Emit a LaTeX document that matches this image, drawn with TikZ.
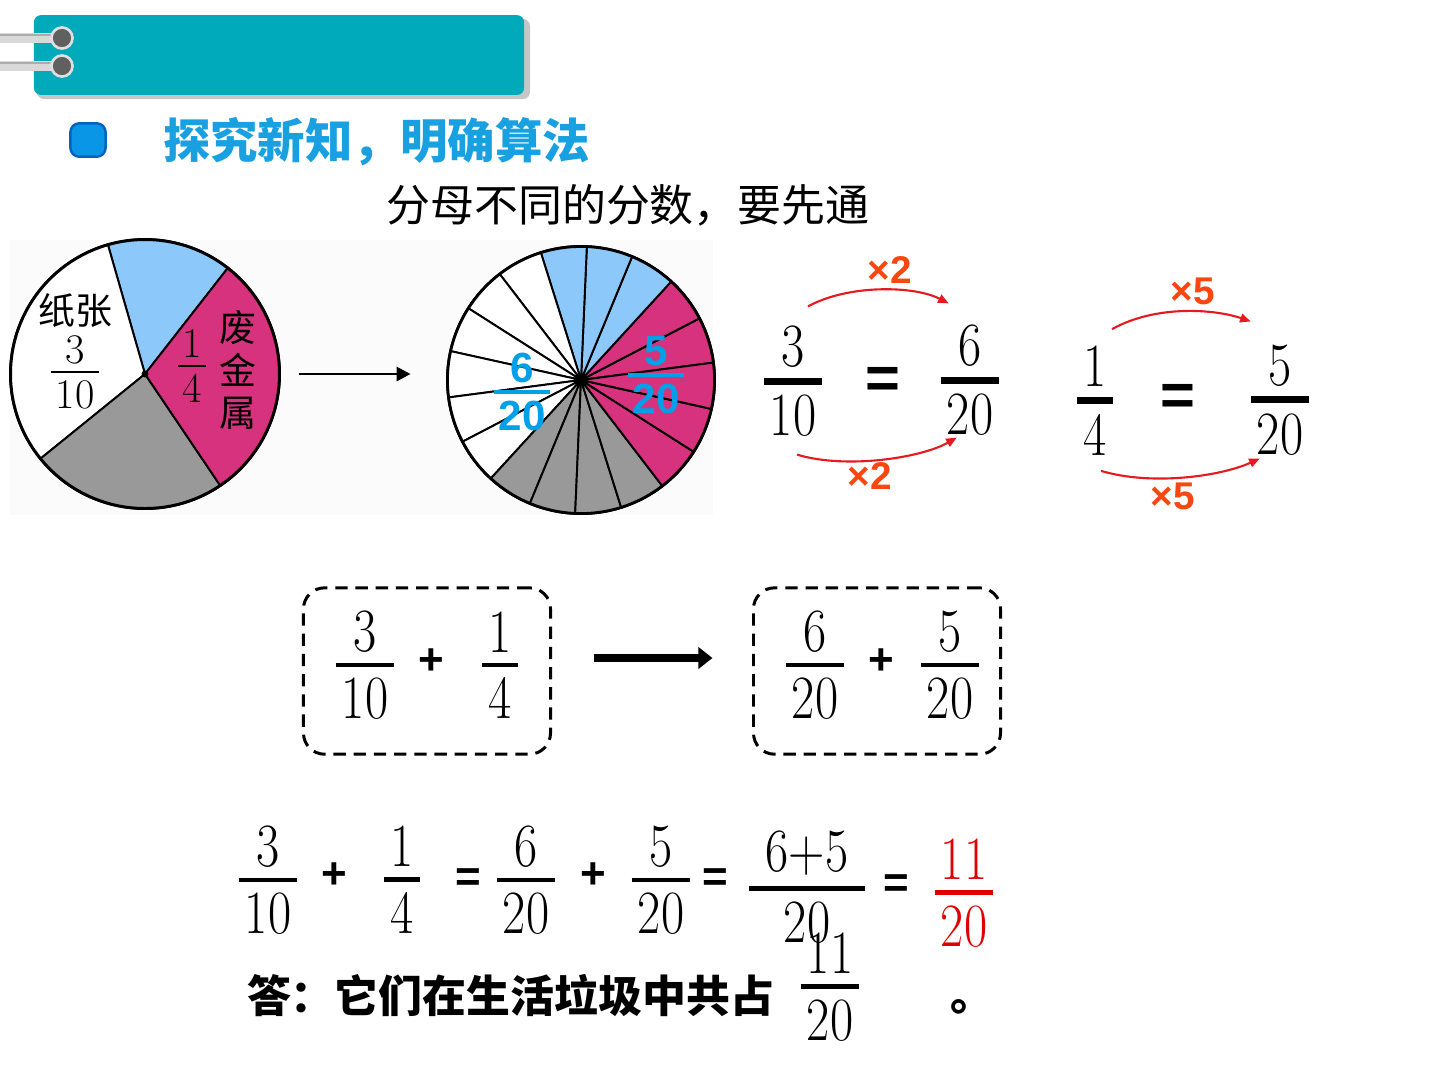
\documentclass[tikz,border=0pt]{standalone}
\usepackage{graphicx}
\usepackage{fontspec}
\newfontfamily\cjk{Noto Sans CJK SC}
\newfontfamily\arial{Liberation Sans}
\usetikzlibrary{arrows.meta,positioning}

\definecolor{barteal}{RGB}{0,170,187}
\definecolor{titleblue}{RGB}{25,160,225}
\definecolor{dotblue}{RGB}{10,150,230}
\definecolor{dotedge}{RGB}{0,100,190}
\definecolor{pieblue}{RGB}{140,200,250}
\definecolor{piepink}{RGB}{215,50,125}
\definecolor{piegray}{RGB}{153,153,153}
\definecolor{fracblue}{RGB}{0,160,233}
\definecolor{mulred}{RGB}{230,25,30}
\definecolor{mulorange}{RGB}{250,70,15}
\definecolor{ansred}{RGB}{225,0,0}

\newdimen\frw
\newbox\frnum
\newbox\frden
\newcommand{\fr}[3][2pt]{%
  \setbox\frnum=\hbox{#2}\setbox\frden=\hbox{#3}%
  \frw=\wd\frnum\relax
  \ifdim\wd\frden>\frw \frw=\wd\frden\relax\fi
  \advance\frw by 0.2em\relax
  \vbox{\offinterlineskip
    \hbox to\frw{\hss\box\frnum\hss}
    \kern0.17em
    \hrule height #1
    \kern0.17em
    \hbox to\frw{\hss\box\frden\hss}}}
\newcommand{\nar}[1]{\scalebox{0.82}[1]{#1}}

\begin{document}
\begin{tikzpicture}[
    x=0.02cm, y=-0.02cm,
    every node/.style={inner sep=0pt, outer sep=0pt},
    cjkbig/.style={font=\cjk\fontsize{25}{30}\selectfont},
    titletext/.style={font=\cjk\bfseries\fontsize{27}{32}\selectfont, text=titleblue},
    answer/.style={font=\cjk\bfseries\fontsize{25}{30}\selectfont},
    pielab/.style={font=\fontsize{24}{28}\selectfont},
    cjkpie/.style={font=\cjk\fontsize{21}{24}\selectfont, align=center},
    bluefr/.style={font=\arial\bfseries\fontsize{24}{28}\selectfont, text=fracblue},
    big/.style={font=\fontsize{35}{42}\selectfont},
    eqbold/.style={font=\arial\bfseries\fontsize{34}{40}\selectfont},
    op/.style={font=\arial\bfseries\fontsize{25}{30}\selectfont},
    mullab/.style={font=\arial\bfseries\fontsize{22}{26}\selectfont, text=mulorange},
    mularrow/.style={draw=mulred, line width=1.2pt, -{Triangle[length=6pt,width=5pt]}},
    slice/.style={draw=black, line width=1.1pt, line join=round},
    pie/.style={circle, draw=black, line width=1.6pt, minimum size=#1},
    dbox/.style={draw, dash pattern=on 7pt off 4.5pt, line width=1.7pt, rounded corners=12pt,
        minimum width=140.6pt, minimum height=94.7pt},
    fatarrow/.style={line width=4.5pt, -{Triangle[length=8pt,width=12pt]}},
    piearrow/.style={line width=1.6pt, -{Triangle[length=8pt,width=8pt]}},
    ring/.style={circle, fill=gray!75!black, draw=gray!25, line width=1.5pt, minimum size=12pt},
    bullet/.style={rectangle, rounded corners=5pt, fill=dotblue, draw=dotedge, line width=1.4pt,
        minimum width=20pt, minimum height=19pt}
]
\fill[white] (0,0) rectangle (1440,1080);
\useasboundingbox (0,0) rectangle (1440,1080);

\fill[gray!45, rounded corners=4pt] (37,19) rectangle (530,99);
\node[fill=barteal, rounded corners=4pt, minimum width=279pt, minimum height=45.4pt] (head) at (279,55) {};
\foreach \y/\n in {38/ringA,66/ringB} {
    \draw[gray!30, line width=6pt] (0,\y) -- (55,\y);
    \draw[gray!65, line width=0.8pt] (0,\y-3) -- (55,\y-3);
    \node[ring] (\n) at (62,\y) {};
}

\node[bullet] (dot) at (88,140) {};
\node[titletext, anchor=west] (title) at (163,142) {探究新知，明确算法};
\node[cjkbig] (hint) at (628,205) {分母不同的分数，要先通};

\fill[gray!3] (10,240) rectangle (713,515);
\coordinate (pcA) at (145,374);
\coordinate (pcB) at (581,380);
\foreach \a/\b/\c in {52/106/pieblue,106/219/white,219/304/piegray,304/412/piepink}
    \filldraw[slice, fill=\c] (pcA) -- ++(-\a:135) arc[start angle=-\a, end angle=-\b, radius=135] -- cycle;
\foreach \c [count=\k from 0] in {piepink,piepink,pieblue,pieblue,pieblue,white,white,white,white,
        white,white,piegray,piegray,piegray,piegray,piepink,piepink,piepink}
    \filldraw[slice, fill=\c] (pcB) -- ++({-7.5-20*\k}:134) arc[start angle={-7.5-20*\k}, delta angle=-20, radius=134] -- cycle;
\node[pie=153pt] (pieA) at (pcA) {};
\node[pie=152pt] (pieB) at (pcB) {};
\fill (pcA) circle[radius=3.5];
\fill (pcB) circle[radius=6];

\node[cjkpie] (paper) at (75,311) {纸张};
\node[pielab] (paperfr) at (75,372) {\fr[1.2pt]{3}{10}};
\node[pielab] (metalfr) at (192,366) {\fr[1.2pt]{1}{4}};
\node[cjkpie] (metal) at (238,370) {废\\金\\属};
\node[bluefr] (sixfr) at (522,392) {\fr[2pt]{6}{20}};
\node[bluefr] (fivefr) at (656,375) {\fr[2pt]{5}{20}};
\draw[piearrow, shorten <=11pt, shorten >=21pt] (pieA.east) -- (pieA.east -| pieB.west);

\node[big] (lhsA) at (793,381) {\fr[4pt]{\nar{3}}{\nar{10}}};
\node[eqbold] (eqA) at (883,383) {=};
\node[big] (rhsA) at (970,380) {\fr[4pt]{\nar{6}}{\nar{20}}};
\node[big] (lhsB) at (1095,401) {\fr[4pt]{\nar{1}}{\nar{4}}};
\node[eqbold] (eqB) at (1178,400) {=};
\node[big] (rhsB) at (1280,400) {\fr[4pt]{\nar{5}}{\nar{20}}};

\draw[mularrow] ([shift={(15,-19)}]lhsA.north) .. controls +(40,-22) and +(-35,-18) .. ([shift={(8,-21)}]rhsA.north west);
\draw[mularrow] ([shift={(4,18)}]lhsA.south) .. controls +(50,15) and +(-35,20) .. ([shift={(16,2)}]rhsA.south west);
\draw[mularrow] ([shift={(17,-17)}]lhsB.north) .. controls +(45,-25) and +(-35,-12) .. ([shift={(0,-23)}]rhsB.north west);
\draw[mularrow] ([shift={(6,15)}]lhsB.south) .. controls +(50,15) and +(-40,18) .. ([shift={(9,3)}]rhsB.south west);
\node[mullab] (timesAt) at (890,270) {×2};
\node[mullab] (timesAb) at (870,476) {×2};
\node[mullab] (timesBt) at (1193,291) {×5};
\node[mullab] (timesBb) at (1173,496) {×5};

\node[dbox] (boxL) at (427,671) {};
\node[dbox] (boxR) at (877,671) {};
\node[big] (boxfA) at (365,665) {\fr[2.3pt]{\nar{3}}{\nar{10}}};
\node[op] (plusL) at (431,662) {+};
\node[big] (boxfB) at (500,665) {\fr[2.3pt]{\nar{1}}{\nar{4}}};
\node[big] (boxfC) at (815,665) {\fr[2.3pt]{\nar{6}}{\nar{20}}};
\node[op] (plusR) at (881,662) {+};
\node[big] (boxfD) at (950,665) {\fr[2.3pt]{\nar{5}}{\nar{20}}};
\draw[fatarrow] ([shift={(43,-13)}]boxL.east) -- ([shift={(-41,-13)}]boxR.west);

\node[big] (sumA) at (268,880) {\fr[2.8pt]{\nar{3}}{\nar{10}}};
\node[op] (plusA) at (334,876) {+};
\node[big] (sumB) at (402,880) {\fr[2.8pt]{\nar{1}}{\nar{4}}};
\node[op] (eqC) at (468,880) {=};
\node[big] (sumC) at (526,880) {\fr[2.8pt]{\nar{6}}{\nar{20}}};
\node[op] (plusB) at (593,876) {+};
\node[big] (sumD) at (661,880) {\fr[2.8pt]{\nar{5}}{\nar{20}}};
\node[op] (eqD) at (715,880) {=};
\node[big] (sumE) at (807,887) {\fr[2.8pt]{\kern6pt\nar{6+5}\kern6pt}{\nar{20}}};
\node[op] (eqE) at (896,886) {=};
\node[big, text=ansred] (result) at (964,893) {\fr[2.8pt]{\nar{11}}{\nar{20}}};

\node[answer, anchor=west] (ans) at (247,995) {答：它们在生活垃圾中共占};
\node[big] (ansfr) at (830,987) {\fr[2.8pt]{\nar{11}}{\nar{20}}};
\node[answer, anchor=base west] (stop) at (950,1010) {。};
\end{tikzpicture}
\end{document}
